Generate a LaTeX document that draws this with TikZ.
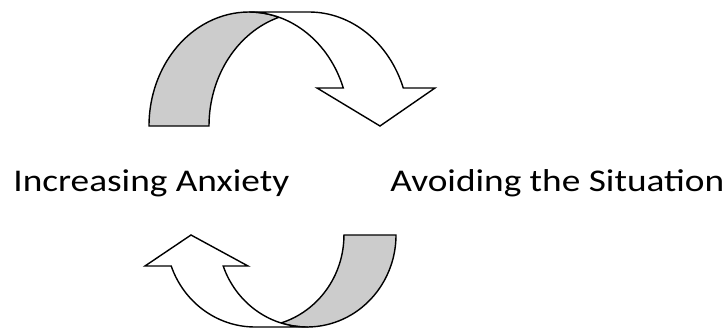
\documentclass[tikz,border=0pt]{standalone}
\usepackage{fontspec}
\setmainfont{Carlito}
\usetikzlibrary{calc}

\definecolor{bandgray}{RGB}{204,204,204}

\begin{document}
\begin{tikzpicture}[x=0.02cm, y=-0.02cm,
    band/.style={draw, line width=0.8pt, line join=miter},
    cycletext/.style={font=\fontsize{18}{21}\selectfont, anchor=base west, inner sep=0pt}]
  \useasboundingbox (0,0) rectangle (725,328);

  \node[cycletext] (anx) at (13,192) {\scalebox{1.18}[1]{Increasing Anxiety}};
  \node[cycletext] (avoid) at (390,192) {\scalebox{1.18}[1]{Avoiding the Situation}};

  % upper arrow
  \draw[band, fill=bandgray] (149,126)
    arc[start angle=180, end angle=287.46, x radius=100, y radius=114]
    arc[start angle=252.54, end angle=180, x radius=100, y radius=114] -- cycle;
  \draw[band, fill=white] (249,12) -- (309,12)
    arc[start angle=270, end angle=340.53, x radius=100, y radius=114]
    -- (435,88) -- (380,126) -- (317,88) -- (343.3,88)
    arc[start angle=340.53, end angle=270, x radius=100, y radius=114] -- cycle;

  % lower arrow
  \draw[band, fill=bandgray] (396,235)
    arc[start angle=0, end angle=107, x radius=89, y radius=92]
    arc[start angle=73, end angle=0, x radius=89, y radius=92] -- cycle;
  \draw[band, fill=white] (307,327) -- (255,327)
    arc[start angle=90, end angle=160.3, x radius=89, y radius=92]
    -- (145,266) -- (191,235) -- (248,266) -- (223.2,266)
    arc[start angle=160.3, end angle=90, x radius=89, y radius=92] -- cycle;
\end{tikzpicture}
\end{document}
